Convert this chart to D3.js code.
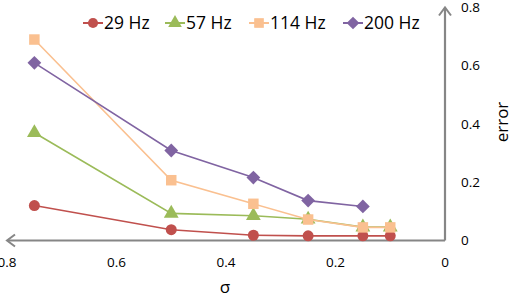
<!DOCTYPE html>
<html>
<head>
<meta charset="utf-8">
<script src="https://cdn.jsdelivr.net/npm/d3@7"></script>
<style>
	body { margin: 0; background: #fff; }
	text { font-family: "Open Sans", "Liberation Sans", sans-serif; fill: #000; }
</style>
</head>
<body>
<div id="chart"></div>
<script>
var sigma = [0.75, 0.5, 0.35, 0.25, 0.15, 0.1];
var seriesNames = ["29 Hz", "57 Hz", "114 Hz", "200 Hz"];
var hz29  = [0.12, 0.037, 0.018, 0.016, 0.016, 0.016];
var hz57  = [0.37, 0.093, 0.085, 0.073, 0.046, 0.046];
var hz114 = [0.69, 0.207, 0.126, 0.072, 0.045, 0.045];
var hz200 = [0.61, 0.309, 0.216, 0.137, 0.117];
var xTicks = [0.8, 0.6, 0.4, 0.2, 0];
var yTicks = [0, 0.2, 0.4, 0.6, 0.8];

var colours = ["#C0504D", "#9BBB59", "#FAC090", "#8064A2"];
var symbols = [d3.symbolCircle, d3.symbolTriangle, d3.symbolSquare, d3.symbolSquare];
var symbolSizes = [95, 95, 110, 95];
var symbolRotate = [0, 0, 0, 45];

var width = 513, height = 297;
var svg = d3.select("#chart").append("svg")
	.attr("width", width)
	.attr("height", height);

var x = d3.scaleLinear().domain([0.8, 0]).range([7, 445]);
var y = d3.scaleLinear().domain([0, 0.8]).range([240.5, 7.5]);

var allSeries = [hz29, hz57, hz114, hz200];

// axes (drawn by hand to get the arrow heads)
var axisColour = "#868686";
svg.append("line")
	.attr("x1", x(0)).attr("y1", y(0))
	.attr("x2", x(0.8) + 1).attr("y2", y(0))
	.attr("stroke", axisColour)
	.attr("stroke-width", 2.2);
svg.append("line")
	.attr("x1", x(0)).attr("y1", y(0))
	.attr("x2", x(0)).attr("y2", y(0.8) + 1)
	.attr("stroke", axisColour)
	.attr("stroke-width", 2.2);
// arrow heads
svg.append("path")
	.attr("d", "M" + (x(0.8) + 8) + "," + (y(0) - 6) + "L" + x(0.8) + "," + y(0) + "L" + (x(0.8) + 8) + "," + (y(0) + 6))
	.attr("fill", "none")
	.attr("stroke", axisColour)
	.attr("stroke-width", 2);
svg.append("path")
	.attr("d", "M" + (x(0) - 6) + "," + (y(0.8) + 8) + "L" + x(0) + "," + y(0.8) + "L" + (x(0) + 6) + "," + (y(0.8) + 8))
	.attr("fill", "none")
	.attr("stroke", axisColour)
	.attr("stroke-width", 2);

// tick labels
svg.append("g").selectAll("text")
	.data(xTicks)
	.enter().append("text")
	.attr("x", function(d) { return x(d); })
	.attr("y", 267)
	.attr("text-anchor", "middle")
	.style("font-size", "13.5px")
	.text(function(d) { return d3.format("")(d); });

svg.append("g").selectAll("text")
	.data(yTicks)
	.enter().append("text")
	.attr("x", 461)
	.attr("y", function(d) { return y(d); })
	.attr("dy", "0.35em")
	.style("font-size", "13.5px")
	.text(function(d) { return d3.format("")(d); });

// axis titles
svg.append("text")
	.attr("x", 225)
	.attr("y", 293)
	.attr("text-anchor", "middle")
	.style("font-size", "17px")
	.text("σ");
svg.append("text")
	.attr("transform", "translate(508,122) rotate(-90)")
	.attr("text-anchor", "middle")
	.style("font-size", "17px")
	.text("error");

// lines + markers
var line = d3.line()
	.x(function(d, i) { return x(sigma[i]); })
	.y(function(d) { return y(d); });

for (var s = 0; s < allSeries.length; s++) {
	var g = svg.append("g");
	g.append("path")
		.attr("d", line(allSeries[s]))
		.attr("fill", "none")
		.attr("stroke", colours[s])
		.attr("stroke-width", 1.6);
	g.selectAll("path.marker")
		.data(allSeries[s])
		.enter().append("path")
		.attr("class", "marker")
		.attr("transform", function(d, i) { return "translate(" + x(sigma[i]) + "," + y(d) + ") rotate(" + symbolRotate[s] + ")"; })
		.attr("d", d3.symbol().type(symbols[s]).size(symbolSizes[s]))
		.attr("fill", colours[s]);
}

// legend
var legendX = [93, 175, 259, 353];
var legend = svg.append("g");
for (var k = 0; k < seriesNames.length; k++) {
	legend.append("line")
		.attr("x1", legendX[k] - 10).attr("y1", 23)
		.attr("x2", legendX[k] + 10).attr("y2", 23)
		.attr("stroke", colours[k])
		.attr("stroke-width", 2);
	legend.append("path")
		.attr("transform", "translate(" + legendX[k] + ",23) rotate(" + symbolRotate[k] + ")")
		.attr("d", d3.symbol().type(symbols[k]).size(symbolSizes[k] * 0.85))
		.attr("fill", colours[k]);
	legend.append("text")
		.attr("x", legendX[k] + 11)
		.attr("y", 23)
		.attr("dy", "0.35em")
		.style("font-size", "17.5px")
		.text(seriesNames[k]);
}
</script>
</body>
</html>
